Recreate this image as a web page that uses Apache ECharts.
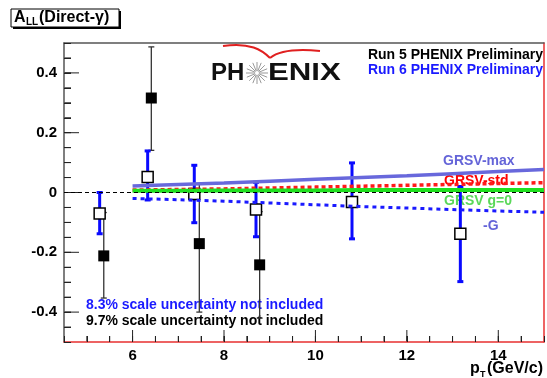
<!DOCTYPE html>
<html>
<head>
<meta charset="utf-8">
<script src="https://cdn.jsdelivr.net/npm/echarts@6/dist/echarts.min.js"></script>
<style>
  html, body { margin: 0; padding: 0; background: #fff; }
  #chart { width: 547px; height: 378px; }
</style>
</head>
<body>
<div id="chart"></div>
<script>
// Run 5 (filled squares)
const run5X = [5.37, 6.41, 7.46, 8.78];
const run5Y = [-0.212, 0.316, -0.171, -0.242];
const run5Lo = [-0.353, 0.141, -0.40, -0.42];
const run5Hi = [-0.067, 0.487, 0.03, -0.064];

// Run 6 (open squares)
const run6X = [5.28, 6.33, 7.35, 8.70, 10.80, 13.17];
const run6Y = [-0.070, 0.052, -0.005, -0.057, -0.032, -0.138];
const run6Lo = [-0.138, -0.025, -0.101, -0.148, -0.155, -0.298];
const run6Hi = [0.000, 0.139, 0.091, 0.034, 0.099, 0.020];

// theory curves
const curveX = [6, 7, 8, 9, 10, 11, 12, 13, 14, 15];
const grsvMax = [0.022, 0.027, 0.032, 0.038, 0.044, 0.050, 0.056, 0.063, 0.070, 0.077];
const grsvStd = [0.008, 0.010, 0.012, 0.015, 0.018, 0.021, 0.024, 0.027, 0.030, 0.033];
const grsvZero = [0.006, 0.006, 0.007, 0.007, 0.007, 0.008, 0.008, 0.008, 0.008, 0.008];
const minusG = [-0.020, -0.024, -0.029, -0.035, -0.041, -0.047, -0.052, -0.057, -0.062, -0.066];

// axis ranges, ticks and tick labels
const X_MIN = 4.5, X_MAX = 15;
const Y_MIN = -0.5, Y_MAX = 0.5;
const xMajor = [6, 8, 10, 12, 14];
const yMajor = [-0.4, -0.2, 0, 0.2, 0.4];
const xMinor = [5, 5.5, 6, 6.5, 7, 7.5, 8, 8.5, 9, 9.5, 10, 10.5, 11, 11.5, 12, 12.5, 13, 13.5, 14, 14.5];
const yMinor = [-0.45, -0.4, -0.35, -0.3, -0.25, -0.2, -0.15, -0.1, -0.05, 0,
  0.05, 0.1, 0.15, 0.2, 0.25, 0.3, 0.35, 0.4, 0.45];

const FONT = 'Liberation Sans, Arial, sans-serif';

const pts = (xs, ys) => xs.map((x, i) => [x, ys[i]]);
const bars = (xs, lo, hi) => xs.map((x, i) => [x, lo[i], hi[i]]);
const pick = (list) => (v) => {
  const hit = list.find((m) => Math.abs(m - v) < 1e-6);
  return hit === undefined ? '' : String(hit);
};

function errRender(color, width, cap) {
  return function (params, api) {
    const x = api.value(0);
    const p1 = api.coord([x, api.value(2)]);
    const p2 = api.coord([x, api.value(1)]);
    const st = { stroke: color, lineWidth: width };
    return {
      type: 'group',
      children: [
        { type: 'line', shape: { x1: p1[0], y1: p1[1], x2: p2[0], y2: p2[1] }, style: st },
        { type: 'line', shape: { x1: p1[0] - cap, y1: p1[1], x2: p1[0] + cap, y2: p1[1] }, style: st },
        { type: 'line', shape: { x1: p2[0] - cap, y1: p2[1], x2: p2[0] + cap, y2: p2[1] }, style: st }
      ]
    };
  };
}

function curve(name, data, color, width, type) {
  return {
    name: name,
    type: 'line',
    data: pts(curveX, data),
    showSymbol: false,
    lineStyle: { color: color, width: width, type: type },
    silent: true
  };
}

// PHENIX logo star
const star = [];
for (let k = 0; k < 16; k++) {
  const a = (k * Math.PI) / 8;
  star.push({
    type: 'line',
    shape: { x1: 257 + 2 * Math.cos(a), y1: 73 + 2 * Math.sin(a), x2: 257 + 11 * Math.cos(a), y2: 73 + 11 * Math.sin(a) },
    style: { stroke: '#999', lineWidth: 1 }
  });
}

const labelStyle = { color: '#000', fontWeight: 'bold', fontSize: 15, fontFamily: FONT };
const frameOnly = { axisTick: { show: false }, axisLabel: { show: false }, splitLine: { show: false } };

const chart = echarts.init(document.getElementById('chart'));

const option = {
  animation: false,
  grid: { left: 64, right: 2, top: 43, bottom: 36 },
  xAxis: [
    {
      type: 'value', min: X_MIN, max: X_MAX, interval: 0.5, position: 'bottom',
      axisLine: { show: true, onZero: false, lineStyle: { color: '#e83030', width: 1.5 } },
      axisTick: { show: true, inside: true, length: 6, lineStyle: { color: '#222' } },
      axisLabel: Object.assign({ show: true, margin: 6, formatter: pick(xMajor) }, labelStyle),
      splitLine: { show: false }
    },
    Object.assign({
      type: 'value', min: X_MIN, max: X_MAX, position: 'top',
      axisLine: { show: true, onZero: false, lineStyle: { color: '#555', width: 1.5 } }
    }, frameOnly)
  ],
  yAxis: [
    {
      type: 'value', min: Y_MIN, max: Y_MAX, interval: 0.05, position: 'left',
      axisLine: { show: true, onZero: false, lineStyle: { color: '#555', width: 1.5 } },
      axisTick: { show: true, inside: true, length: 7, lineStyle: { color: '#222' } },
      axisLabel: Object.assign({ show: true, margin: 7, formatter: pick(yMajor) }, labelStyle),
      splitLine: { show: false }
    },
    Object.assign({
      type: 'value', min: Y_MIN, max: Y_MAX, position: 'right',
      axisLine: { show: true, onZero: false, lineStyle: { color: '#e83030', width: 1.5 } }
    }, frameOnly)
  ],
  series: [
    Object.assign(curve('GRSV-max', grsvMax, '#6868dc', 3.5, 'solid'), {
      markLine: {
        silent: true, symbol: 'none', label: { show: false },
        lineStyle: { color: '#000', width: 1, type: [4, 3] },
        data: [{ yAxis: 0 }]
      }
    }),
    curve('GRSV-std', grsvStd, '#ff1a1a', 3.5, [4, 3]),
    curve('GRSV g=0', grsvZero, '#1fe01f', 4, 'solid'),
    curve('-G', minusG, '#1a1aff', 3, [4, 4]),
    {
      name: 'run5err', type: 'custom',
      renderItem: errRender('#333', 1.3, 3),
      data: bars(run5X, run5Lo, run5Hi),
      encode: { x: 0, y: [1, 2] }, silent: true
    },
    {
      name: 'Run 5', type: 'scatter', symbol: 'rect', symbolSize: 11,
      itemStyle: { color: '#000', opacity: 1 },
      data: pts(run5X, run5Y)
    },
    {
      name: 'run6err', type: 'custom',
      renderItem: errRender('#0a0aff', 3, 3),
      data: bars(run6X, run6Lo, run6Hi),
      encode: { x: 0, y: [1, 2] }, silent: true
    },
    {
      name: 'Run 6', type: 'scatter', symbol: 'rect', symbolSize: 11,
      itemStyle: { color: '#fff', borderColor: '#000', borderWidth: 1.5, opacity: 1 },
      data: pts(run6X, run6Y)
    }
  ],
  graphic: [
    // title box
    { type: 'rect', shape: { x: 13, y: 11, width: 108, height: 18 }, style: { fill: '#000' } },
    { type: 'rect', shape: { x: 11, y: 9, width: 108, height: 18 }, style: { fill: '#fff', stroke: '#000', lineWidth: 1 } },
    { type: 'text', x: 14, y: 10, style: { text: 'A', font: 'bold 16px ' + FONT, fill: '#000' } },
    { type: 'text', x: 26, y: 17, style: { text: 'LL', font: 'bold 10px ' + FONT, fill: '#000' } },
    { type: 'text', x: 39, y: 10, style: { text: '(Direct-γ)', font: 'bold 16px ' + FONT, fill: '#000' } },
    // PHENIX logo
    { type: 'bezierCurve', shape: { x1: 223, y1: 46, cpx1: 250, cpy1: 42, cpx2: 262, cpy2: 50, x2: 270, y2: 58 }, style: { stroke: '#e02020', lineWidth: 2, fill: null } },
    { type: 'bezierCurve', shape: { x1: 270, y1: 58, cpx1: 280, cpy1: 50, cpx2: 300, cpy2: 49, x2: 320, y2: 51 }, style: { stroke: '#e02020', lineWidth: 2, fill: null } },
    { type: 'text', x: 211, y: 61, style: { text: 'PH', font: 'bold 24px ' + FONT, fill: '#111' } },
    { type: 'text', x: 268, y: 61, scaleX: 1.3, style: { text: 'ENIX', font: 'bold 24px ' + FONT, fill: '#111' } },
    { type: 'group', children: star },
    // run labels
    { type: 'text', x: 543, y: 48, style: { text: 'Run 5 PHENIX Preliminary', font: 'bold 14px ' + FONT, fill: '#000', align: 'right' } },
    { type: 'text', x: 543, y: 63, style: { text: 'Run 6 PHENIX Preliminary', font: 'bold 14px ' + FONT, fill: '#1a1aff', align: 'right' } },
    // curve labels
    { type: 'text', x: 443, y: 154, style: { text: 'GRSV-max', font: 'bold 14px ' + FONT, fill: '#6464d8' } },
    { type: 'text', x: 444, y: 174, style: { text: 'GRSV-std', font: 'bold 14px ' + FONT, fill: '#ff0000' } },
    { type: 'text', x: 444, y: 194, style: { text: 'GRSV g=0', font: 'bold 14px ' + FONT, fill: '#5ad85a' } },
    { type: 'text', x: 483, y: 219, style: { text: '-G', font: 'bold 14px ' + FONT, fill: '#6464d8' } },
    // scale uncertainty notes
    { type: 'text', x: 86, y: 298, style: { text: '8.3% scale uncertainty not included', font: 'bold 14px ' + FONT, fill: '#1a1aff' } },
    { type: 'text', x: 86, y: 314, style: { text: '9.7% scale uncertainty not included', font: 'bold 14px ' + FONT, fill: '#000' } },
    // x-axis title
    { type: 'text', x: 470, y: 361, style: { text: 'p', font: 'bold 16px ' + FONT, fill: '#000' } },
    { type: 'text', x: 480, y: 370, style: { text: 'T', font: 'bold 9px ' + FONT, fill: '#000' } },
    { type: 'text', x: 543, y: 361, style: { text: '(GeV/c)', font: 'bold 16px ' + FONT, fill: '#000', align: 'right' } }
  ]
};

chart.setOption(option);

// inward tick marks, placed with the grid's own scales
const toPx = (v) => chart.convertToPixel({ xAxisIndex: 0, yAxisIndex: 0 }, v);
const tickEls = [];
function addTicks(values, isX, len) {
  values.forEach((v) => {
    const p = isX ? toPx([v, Y_MIN]) : toPx([X_MIN, v]);
    const shape = isX
      ? { x1: p[0], y1: p[1], x2: p[0], y2: p[1] - len }
      : { x1: p[0], y1: p[1], x2: p[0] + len, y2: p[1] };
    tickEls.push({ type: 'line', shape: shape, style: { stroke: '#222', lineWidth: 1 } });
  });
}
addTicks(xMinor, true, 6);
addTicks(xMajor, true, 12);
addTicks(yMinor, false, 7);
addTicks(yMajor, false, 15);

option.graphic.push({ type: 'group', z: 100, children: tickEls });
chart.setOption(option, true);
</script>
</body>
</html>
